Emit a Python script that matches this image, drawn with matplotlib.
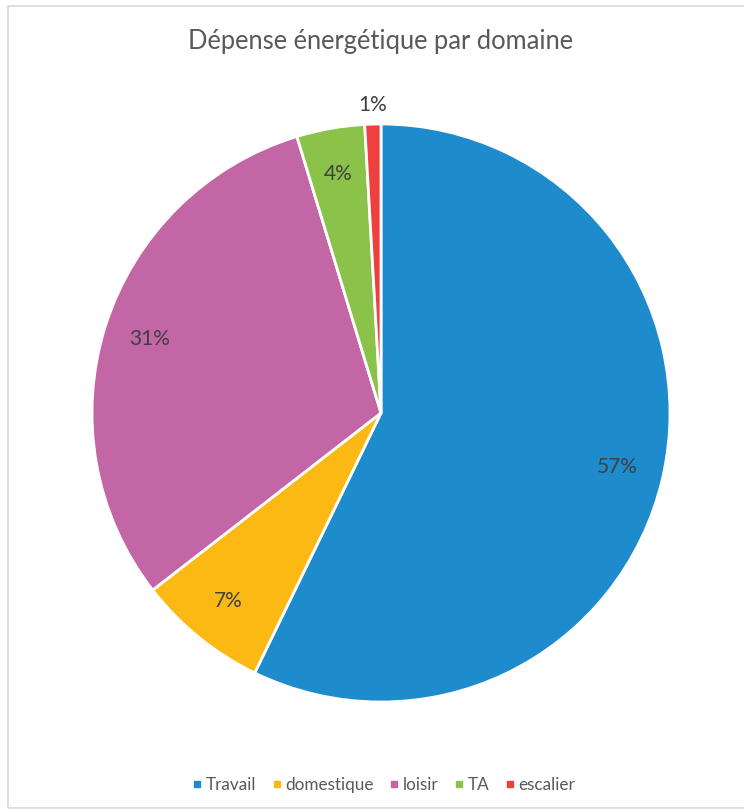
import numpy as np
import matplotlib.pyplot as plt
from matplotlib.patches import Rectangle
from matplotlib.lines import Line2D

plt.rcParams['font.family'] = ['Lato', 'DejaVu Sans']

domaines = ['Travail', 'domestique', 'loisir', 'TA', 'escalier']
parts = [57.2, 7.3, 30.8, 3.8, 0.9]
couleurs = ['#1E8BCD', '#FDB913', '#C366A6', '#8BC34A', '#EF4040']

W, H = 744, 810
fig = plt.figure(figsize=(W / 100, H / 100), dpi=100)

# cadre gris clair autour du graphique
fig.patches.append(Rectangle((8 / W, 1 - 808 / H), 760 / W, 802 / H,
                             transform=fig.transFigure, fill=False,
                             edgecolor='#D9D9D9', linewidth=1.2))

cx, cy, r = 381, 413, 289
ax = fig.add_axes([(cx - r) / W, (H - cy - r) / H, 2 * r / W, 2 * r / H])
wedges, _ = ax.pie(parts, colors=couleurs, startangle=90, counterclock=False,
                   radius=1, wedgeprops=dict(edgecolor='white', linewidth=2))
ax.set_xlim(-1, 1)
ax.set_ylim(-1, 1)
ax.set_aspect('equal')
ax.axis('off')

# étiquettes de pourcentage : dans la part, ou au-dessus si elle est trop fine
total = sum(parts)
debut = 0
for p in parts:
    milieu = (debut + p / 2) / total * 2 * np.pi
    dist = 0.84 if p > 2 else 1.065
    x = dist * np.sin(milieu)
    y = dist * np.cos(milieu)
    ax.text(x, y, '%d%%' % round(p), ha='center', va='center',
            fontsize=15, color='#404040', clip_on=False)
    debut += p

fig.text(cx / W, 1 - 42 / H, 'Dépense énergétique par domaine',
         ha='center', va='center', fontsize=18.4, color='#595959')

poignees = [Line2D([], [], marker='s', linestyle='none', markersize=5,
                   markerfacecolor=c, markeredgecolor=c) for c in couleurs]
fig.legend(poignees, domaines, loc='center', bbox_to_anchor=(384 / W, 1 - 785 / H),
           ncol=5, frameon=False, fontsize=12.3, handletextpad=0.25,
           handlelength=0.5, columnspacing=0.95, labelcolor='#595959')

fig.savefig('out.png', dpi=100, facecolor='white')
